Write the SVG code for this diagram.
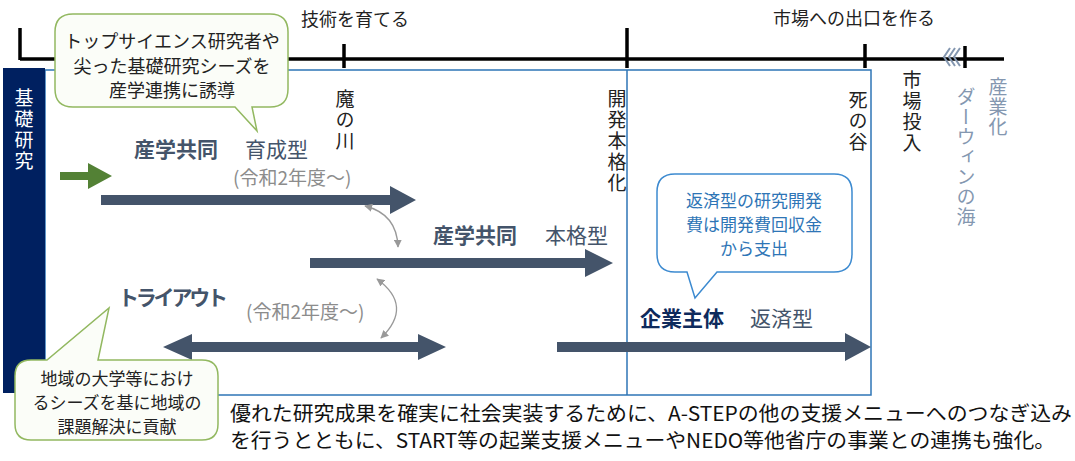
<svg xmlns="http://www.w3.org/2000/svg" width="1075" height="461" viewBox="0 0 1075 461">
<defs>
<style>
text{font-family:"Noto Sans CJK JP","Noto Sans",sans-serif;}
.tl{stroke:#000;stroke-width:3.5;fill:none}
.blk{fill:#44546a}
.lbl{fill:#44546a;font-size:21px}
.b{font-weight:bold}
.gray{fill:#8c8c8c;font-size:19px}
.vt{writing-mode:vertical-rl;font-size:19px;fill:#222;letter-spacing:2px}
.vg{writing-mode:vertical-rl;font-size:19px;fill:#8497b0;letter-spacing:1px}
.cg{fill:#fbfdf8;stroke:#92b860;stroke-width:1.5}
.cb{fill:#fff;stroke:#3c8ad0;stroke-width:1.5}
.ct{font-size:18px;fill:#222;text-anchor:middle}
.cs{font-size:17px}
.cbt{font-size:17px;fill:#2e75b6;text-anchor:middle}
.crv{fill:none;stroke:#999;stroke-width:1.3;marker-start:url(#ah);marker-end:url(#ah)}
</style>
<marker id="ah" viewBox="0 0 10 10" refX="9" refY="5" markerWidth="8" markerHeight="8" markerUnits="userSpaceOnUse" orient="auto-start-reverse">
<path d="M0,0 L10,5 L0,10 Z" fill="#999"/>
</marker>
</defs>
<rect width="1075" height="461" fill="#fff"/>

<g id="timeline">
<line class="tl" x1="20" y1="59" x2="1004" y2="59"/>
<line class="tl" x1="20" y1="28" x2="20" y2="60"/>
<line class="tl" x1="344" y1="44" x2="344" y2="68"/>
<line class="tl" x1="627" y1="28" x2="627" y2="68"/>
<line class="tl" x1="865" y1="44" x2="865" y2="68"/>
<line class="tl" x1="965" y1="46" x2="965" y2="68"/>
<g fill="none" stroke="#8497b0" stroke-width="2">
<polyline points="950,48 944,57 950,66"/>
<polyline points="955,48 949,57 955,66"/>
<polyline points="960,48 954,57 960,66"/>
</g>
<text x="355" y="26" font-size="18" fill="#222" text-anchor="middle">技術を育てる</text>
<text x="854" y="25" font-size="18" fill="#222" text-anchor="middle">市場への出口を作る</text>
</g>

<g id="frame">
<rect x="45" y="70" width="826" height="325" fill="none" stroke="#2e75b6" stroke-width="1.5"/>
<line x1="627" y1="70" x2="627" y2="395" stroke="#2e75b6" stroke-width="1.5"/>
</g>

<g id="kiso">
<rect x="3" y="68" width="42" height="325" fill="#002060"/>
<text class="vt" x="24" y="88" style="fill:#fff">基礎研究</text>
</g>

<g id="milestones">
<text class="vt" x="345" y="89">魔の川</text>
<text class="vt" x="617" y="89">開発本格化</text>
<text class="vt" x="858" y="90">死の谷</text>
<text class="vt" x="912" y="70">市場投入</text>
<text class="vg" x="966" y="87">ダーウィンの海</text>
<text class="vg" x="998" y="77">産業化</text>
</g>

<g id="connectors">
<polygon fill="#538135" points="60,172 88,172 88,163 112,176 88,189 88,180 60,180"/>
<polygon class="blk" points="101,195 390,195 390,186 416,200 390,214 390,205 101,205"/>
<polygon class="blk" points="310,258 585,258 585,249 613,263 585,277 585,268 310,268"/>
<polygon class="blk" points="163,347 192,334 192,342 418,342 418,334 446,347 418,360 418,352 192,352 192,360"/>
<polygon class="blk" points="557,342 845,342 845,333 871,347 845,361 845,352 557,352"/>
<path class="crv" d="M365,206 Q397,214 398,247"/>
<path class="crv" d="M377,279 Q414,306 381,338"/>
</g>

<g id="ikusei">
<text class="lbl" x="134" y="157"><tspan class="b">産学共同</tspan><tspan x="245">育成型</tspan></text>
<text class="gray" x="233" y="185">(令和2年度～)</text>
</g>

<g id="honkaku">
<text class="lbl" x="433" y="243"><tspan class="b">産学共同</tspan><tspan x="545">本格型</tspan></text>
</g>

<g id="tryout">
<text class="lbl b" x="118" y="305" textLength="110">トライアウト</text>
<text class="gray" x="246" y="319">(令和2年度～)</text>
</g>

<g id="kigyo">
<text class="lbl" x="640" y="326"><tspan class="b" style="fill:#0e2a5c">企業主体</tspan><tspan x="750">返済型</tspan></text>
</g>

<g id="callout1">
<path class="cg" d="M73,14 H270 Q288,14 288,32 V89 Q288,107 270,107 H252 L257,131 L235,107 H73 Q55,107 55,89 V32 Q55,14 73,14 Z"/>
<text class="ct" x="172" y="48">トップサイエンス研究者や</text>
<text class="ct" x="172" y="73">尖った基礎研究シーズを</text>
<text class="ct" x="172" y="97">産学連携に誘導</text>
</g>

<g id="callout2">
<path class="cg" d="M31,360 H47 L109,308 L98,360 H202 Q218,360 218,376 V424 Q218,440 202,440 H31 Q15,440 15,424 V376 Q15,360 31,360 Z"/>
<text class="ct cs" x="117" y="385">地域の大学等におけ</text>
<text class="ct cs" x="117" y="409">るシーズを基に地域の</text>
<text class="ct cs" x="117" y="433">課題解決に貢献</text>
</g>

<g id="callout3">
<path class="cb" d="M675,174 H834 Q852,174 852,192 V254 Q852,272 834,272 H717 L695,298 L687,272 H675 Q657,272 657,254 V192 Q657,174 675,174 Z"/>
<text class="cbt" x="754" y="207">返済型の研究開発</text>
<text class="cbt" x="754" y="231">費は開発費回収金</text>
<text class="cbt" x="754" y="255">から支出</text>
</g>

<g id="summary">
<text x="230" y="421" font-size="20" fill="#111" textLength="842" lengthAdjust="spacingAndGlyphs">優れた研究成果を確実に社会実装するために、A-STEPの他の支援メニューへのつなぎ込み</text>
<text x="230" y="448" font-size="20" fill="#111" textLength="825" lengthAdjust="spacingAndGlyphs">を行うとともに、START等の起業支援メニューやNEDO等他省庁の事業との連携も強化。</text>
</g>
</svg>
